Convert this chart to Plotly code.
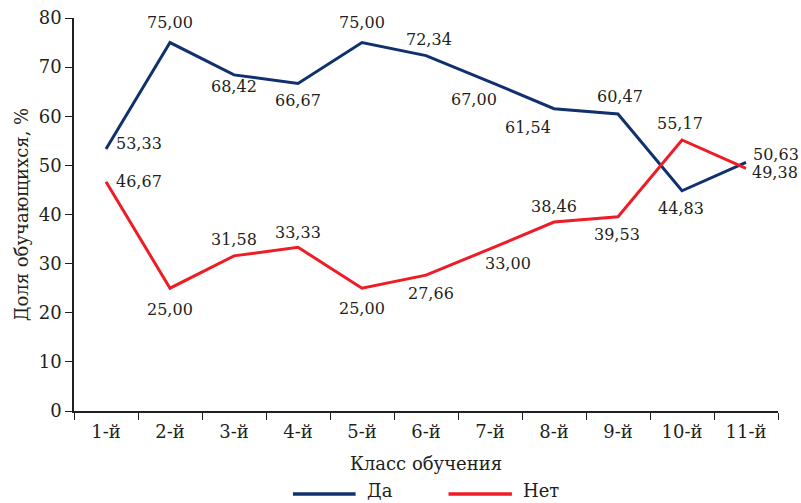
import plotly.graph_objects as go

grades = ["1-й", "2-й", "3-й", "4-й", "5-й", "6-й", "7-й", "8-й", "9-й", "10-й", "11-й"]
yes_vals = [53.33, 75.00, 68.42, 66.67, 75.00, 72.34, 67.00, 61.54, 60.47, 44.83, 50.63]
no_vals = [46.67, 25.00, 31.58, 33.33, 25.00, 27.66, 33.00, 38.46, 39.53, 55.17, 49.38]

NAVY = "#10306E"
RED = "#EE1C25"
INK = "#231F20"
FONT = "DejaVu Serif, Liberation Serif, serif"

# label offsets in px (dx, dy), dy positive = up
yes_off = [(33, 6), (0, 20), (0, -12), (0, -17), (0, 20), (3, 16),
           (-16, -18), (-26, -19), (2, 17), (-1, -18), (30, 8)]
no_off = [(33, 0), (0, -21), (0, 16), (0, 15), (0, -20), (5, -18),
          (18, -15), (0, 16), (-1, -18), (-2, 16), (29, -4)]


def fmt(v):
    return f"{v:.2f}".replace(".", ",")


fig = go.Figure()
fig.add_trace(go.Scatter(x=grades, y=yes_vals, mode="lines", name="Да",
                         line=dict(color=NAVY, width=3)))
fig.add_trace(go.Scatter(x=grades, y=no_vals, mode="lines", name="Нет",
                         line=dict(color=RED, width=3)))

for vals, offs in ((yes_vals, yes_off), (no_vals, no_off)):
    for g, v, (dx, dy) in zip(grades, vals, offs):
        fig.add_annotation(x=g, y=v, text=fmt(v), showarrow=False,
                           xshift=dx, yshift=dy,
                           font=dict(family=FONT, size=16, color=INK))

# manual legend below the chart
legend_items = [("Да", NAVY, 0.311, 0.400), ("Нет", RED, 0.532, 0.622)]
for name, color, x0, x1 in legend_items:
    fig.add_shape(type="line", xref="paper", yref="paper", x0=x0, x1=x1,
                  y0=-0.211, y1=-0.211, line=dict(color=color, width=3.5))
    fig.add_annotation(xref="paper", yref="paper", x=x1 + 0.013, y=-0.203,
                       xanchor="left", yanchor="middle", showarrow=False, text=name,
                       font=dict(family=FONT, size=18, color=INK))

fig.update_xaxes(
    range=[-0.5, 10.5], showline=True, linecolor=INK, linewidth=1.5,
    ticks="outside", tickson="boundaries", ticklen=7, tickcolor=INK,
    ticklabelstandoff=4,
    showgrid=False, tickfont=dict(family=FONT, size=18, color=INK),
    title=dict(text="Класс обучения", font=dict(family=FONT, size=18, color=INK),
               standoff=16),
)
fig.update_yaxes(
    range=[0, 80], dtick=10, showline=True, linecolor=INK, linewidth=1.5,
    ticks="outside", ticklen=7, tickcolor=INK, showgrid=False, zeroline=False,
    ticklabeloverflow="allow",
    tickfont=dict(family=FONT, size=18, color=INK),
    title=dict(text="Доля обучающихся, %", font=dict(family=FONT, size=18, color=INK),
               standoff=5),
)

fig.update_layout(
    width=801, height=503,
    paper_bgcolor="white", plot_bgcolor="white",
    margin=dict(l=74, r=23, t=18, b=92, autoexpand=False),
    showlegend=False,
)

# drop the default body margin so the figure fills the window exactly
fig.write_html("out.html", config={"displayModeBar": False},
               post_script="document.body.style.margin = '0';")
